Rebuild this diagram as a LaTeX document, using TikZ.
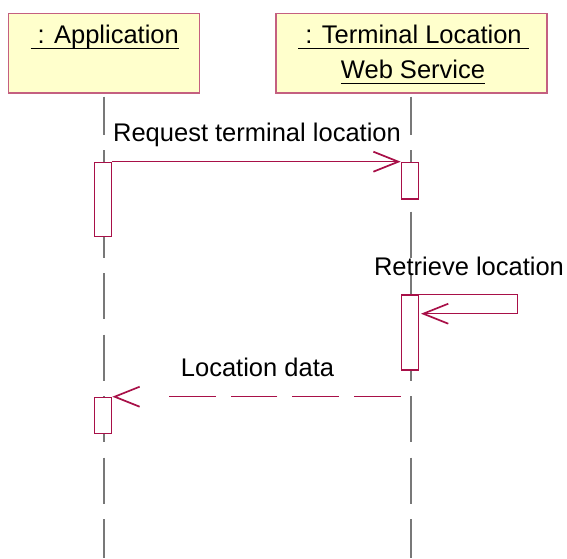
\documentclass[tikz,border=0pt]{standalone}
\usepackage{fontspec}
\setmainfont{Liberation Sans}
\usetikzlibrary{arrows.meta}

\definecolor{objfill}{RGB}{255,255,204}
\definecolor{objline}{RGB}{196,96,128}
\definecolor{actline}{RGB}{168,16,72}
\definecolor{lifegray}{RGB}{120,120,120}

% underline a bit below the baseline, as in the model tool
\newcommand\ulin[1]{\setbox0=\hbox{#1}\rlap{\rule[-5.4pt]{\wd0}{1.4pt}}\box0}

\tikzset{
  objbox/.style={draw=objline, fill=objfill, line width=1.4pt, inner sep=0pt, minimum height=79.6pt},
  acti/.style={draw=actline, fill=white, line width=1.2pt, minimum width=17.5pt, inner sep=0pt, anchor=north},
  lifeline/.style={lifegray, line width=1.3pt, dash pattern=on 46pt off 15.5pt, dash phase=8pt},
  msg/.style={actline, line width=1pt, -{Straight Barb[length=25pt,width=20pt,line width'=1.7pt]}},
  txt/.style={font=\fontsize{25.5}{35}\selectfont, inner sep=0pt, anchor=base}
}

\begin{document}
\begin{tikzpicture}[x=1pt,y=-1pt]
        \useasboundingbox (0,0) rectangle (567,558);

        % objects
        \node[objbox, minimum width=191pt] (app) at (104,53.2) {};
        \node[objbox, minimum width=271pt] (tlws) at (411.5,53.2) {};
        \node[txt] (appname) at (104.7,43.6) {\ulin{\ : Application}};
        \node[txt] (tlwsname) at (413.5,43.6) {\ulin{\ : Terminal Location\ }};
        \node[txt] (tlwsname2) at (413,78.6) {\ulin{Web Service}};

        % lifelines
        \coordinate (appbot) at (104,558);
        \coordinate (tlwsbot) at (411,558);
        \draw[lifeline] ([yshift=-3pt]app.south) -- (appbot);
        \draw[lifeline] ([xshift=-0.5pt,yshift=-3pt]tlws.south) -- (tlwsbot);

        % activations
        \node[acti, minimum height=74.3pt] (appact1) at (103,161.7) {};
        \node[acti, minimum height=36.6pt] (tlact1) at (410,161.7) {};
        \node[acti, minimum height=75pt] (tlact2) at (410,294.3) {};
        \node[acti, minimum height=36.3pt] (appact2) at (103,396.7) {};

        % messages
        \draw[msg] (appact1.north east) -- (tlact1.north west);
        \node[txt] (reqlbl) at (257,141.7) {Request terminal location};

        \coordinate (selfturn) at (517,294.3);
        \coordinate (selfback) at (517,313.7);
        \coordinate (selftip) at (421,313.7);
        \draw[msg] (tlact2.north east) -- (selfturn) -- (selfback) -- (selftip);
        \node[txt] (retlbl) at (469,275) {Retrieve location};

        \draw[msg, dash pattern=on 46.7pt off 15pt on 46.7pt off 15pt on 46.7pt off 15pt on 46.7pt off 60pt]
            (tlact2.west |- appact2.north) -- (appact2.north east);
        \node[txt] (datalbl) at (257.5,376.7) {Location data};

        %\node at (257,60) {\Large return};
    \end{tikzpicture}
\end{document}
